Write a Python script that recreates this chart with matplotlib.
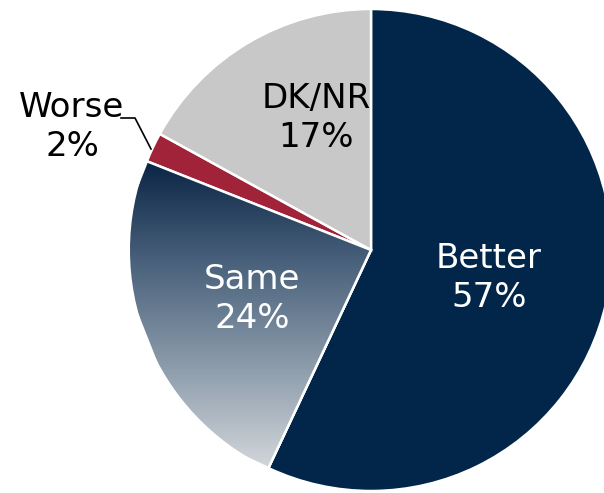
import matplotlib.pyplot as plt
import numpy as np
from matplotlib.colors import LinearSegmentedColormap

labels = ['Better', 'Same', 'Worse', 'DK/NR']
values = [57, 24, 2, 17]
colors = ['#012649', '#3e5a76', '#a1233a', '#c8c8c8']
text_colors = ['white', 'white', 'black', 'black']

W, H = 604, 493
fig = plt.figure(figsize=(W / 100, H / 100), dpi=100)
ax = fig.add_axes([0, 0, 1, 1])

cx, cy, r = 371, H - 250, 241
wedges, _ = ax.pie(values, colors=colors, startangle=90, counterclock=False,
                   center=(cx, cy), radius=r, frame=True,
                   wedgeprops=dict(edgecolor='white', linewidth=1.8))
ax.set_aspect('equal')
ax.set_xlim(0, W)
ax.set_ylim(0, H)
ax.axis('off')

# gradient fill for the "Same" wedge
same = wedges[1]
cmap = LinearSegmentedColormap.from_list('g', ['#0a2444', '#4a627c', '#8d9cab', '#d4d8dc'])
grad = np.linspace(0, 1, 256).reshape(-1, 1)
img = ax.imshow(grad, cmap=cmap, extent=[cx - r, cx, cy - r + 20, cy + 90],
                origin='upper', aspect='auto', zorder=same.get_zorder() + 0.1)
img.set_clip_path(same)
ax.set_xlim(0, W)
ax.set_ylim(0, H)
ax.add_patch(plt.Polygon(same.get_path().vertices, closed=True, fill=False,
                         edgecolor='white', linewidth=1.8,
                         transform=same.get_transform(), zorder=same.get_zorder() + 0.2))

pos = {'Better': (489, 278), 'Same': (252, 299), 'DK/NR': (316, 118), 'Worse': (72, 127)}
for lab, v, tc in zip(labels, values, text_colors):
    x, y = pos[lab]
    ax.text(x, H - y, f'{lab}\n{v}%', ha='center', va='center', fontsize=24.5,
            color=tc, linespacing=1.25, family='DejaVu Sans')

# leader line for Worse
ax.plot([121, 135, 151], [H - 118, H - 118, H - 149], color='black', lw=1.2)

fig.savefig('out.png', dpi=100)
